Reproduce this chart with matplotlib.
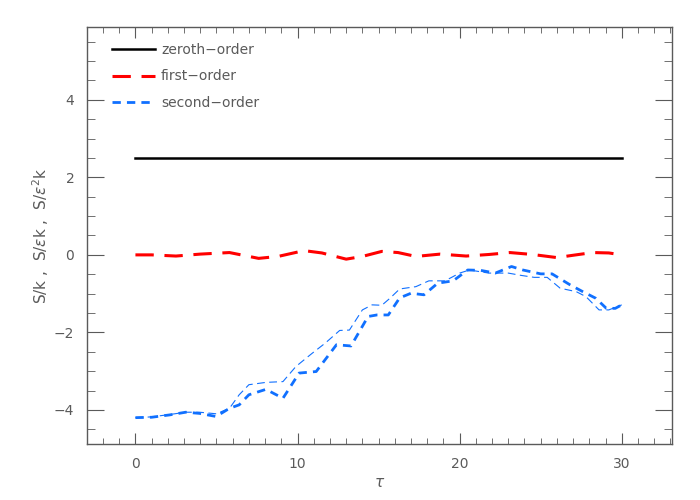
import numpy as np
import matplotlib
matplotlib.use("Agg")
import matplotlib.pyplot as plt
from matplotlib.ticker import MultipleLocator

# zeroth-order
zero_t = [0, 30]
zero_s = [2.5, 2.5]

# first-order
first_t = [0, 1, 2.5, 4, 5.8, 7.6, 8.8, 10.4, 11.5, 13.0, 14.0, 15.2, 16.2,
           17.3, 18.8, 20.4, 21.8, 23.1, 24.5, 26.0, 27.0, 28.2, 29.2, 30]
first_s = [0, 0, -0.03, 0.02, 0.06, -0.09, -0.04, 0.11, 0.05, -0.11, -0.04,
           0.09, 0.06, -0.04, 0.02, -0.03, 0.01, 0.06, 0.01, -0.07, -0.01,
           0.06, 0.05, 0]

# second-order (thick)
second_t = [0, 1, 2.1, 3.1, 3.95, 4.98, 5.8, 6.4, 7.0, 8.05, 9.1, 9.7, 10.1,
            11.15, 12.4, 13.3, 14.35, 14.9, 15.6, 16.3, 17.0, 17.8, 18.65,
            19.6, 20.5, 21.3, 22.2, 23.2, 23.9, 25.0, 25.7, 26.8, 27.6, 28.4,
            29.05, 29.6, 30]
second_s = [-4.2, -4.19, -4.13, -4.06, -4.09, -4.17, -3.96, -3.87, -3.61,
            -3.47, -3.70, -3.31, -3.05, -3.01, -2.32, -2.35, -1.59, -1.55,
            -1.55, -1.11, -0.99, -1.03, -0.73, -0.67, -0.39, -0.40, -0.47,
            -0.30, -0.39, -0.49, -0.49, -0.77, -0.95, -1.12, -1.38, -1.38,
            -1.29]

# second-order (thin)
second2_t = [0, 1, 2.1, 3.1, 3.95, 4.98, 5.8, 6.4, 7.0, 8.05, 9.1, 9.9, 10.9,
             11.7, 12.6, 13.2, 14.0, 14.6, 15.2, 15.7, 16.3, 17.3, 18.1,
             19.1, 20.0, 20.6, 21.8, 23.0, 23.8, 24.6, 25.4, 26.2, 27.2,
             27.8, 28.6, 29.2, 30]
second2_s = [-4.2, -4.18, -4.12, -4.06, -4.06, -4.1, -3.96, -3.61, -3.35,
             -3.29, -3.27, -2.88, -2.54, -2.28, -1.95, -1.94, -1.42, -1.29,
             -1.30, -1.12, -0.88, -0.82, -0.67, -0.67, -0.47, -0.39, -0.47,
             -0.47, -0.53, -0.58, -0.58, -0.86, -0.95, -1.08, -1.42, -1.42,
             -1.29]

GRAY = "#5a5a5a"
BLUE = "#1070ff"

fig = plt.figure(figsize=(7, 5), dpi=100)
ax = fig.add_axes([0.124, 0.112, 0.836, 0.834])

ax.plot(zero_t, zero_s, color="black", linewidth=1.8, label="zeroth\u2212order")
ax.plot(first_t, first_s, color="red", linewidth=2.2, dashes=(6, 3.5),
        label="first\u2212order")
ax.plot(second2_t, second2_s, color=BLUE, linewidth=0.8, dashes=(7, 4))
ax.plot(second_t, second_s, color=BLUE, linewidth=2.0, dashes=(3, 2.2),
        label="second\u2212order")

ax.set_xlim(-3, 33.1)
ax.set_ylim(-4.88, 5.88)
ax.xaxis.set_major_locator(MultipleLocator(10))
ax.xaxis.set_minor_locator(MultipleLocator(1))
ax.yaxis.set_major_locator(MultipleLocator(2))
ax.yaxis.set_minor_locator(MultipleLocator(0.5))

for s in ax.spines.values():
    s.set_color(GRAY)
    s.set_linewidth(1.0)
ax.tick_params(axis="both", which="both", direction="in", top=True,
               right=True, colors=GRAY, labelcolor=GRAY, labelsize=10, pad=9)
ax.tick_params(axis="x", which="major", length=8)
ax.tick_params(axis="x", which="minor", length=4)
ax.tick_params(axis="y", which="major", length=12)
ax.tick_params(axis="y", which="minor", length=6)

ax.set_xlabel(r"$\tau$", color=GRAY, fontsize=11, labelpad=3)
ax.set_ylabel(r"S/k ,  S/$\epsilon$k ,  S/$\epsilon^2$k", color=GRAY,
              fontsize=11)
ax.yaxis.set_label_coords(-0.062, 0.5)

leg = ax.legend(loc="upper left", frameon=False, handlelength=3.1,
                handletextpad=0.4, labelspacing=0.9, fontsize=10,
                bbox_to_anchor=(0.027, 0.985), borderaxespad=0.3)
for t in leg.get_texts():
    t.set_color(GRAY)

fig.savefig("out.png", dpi=100)
